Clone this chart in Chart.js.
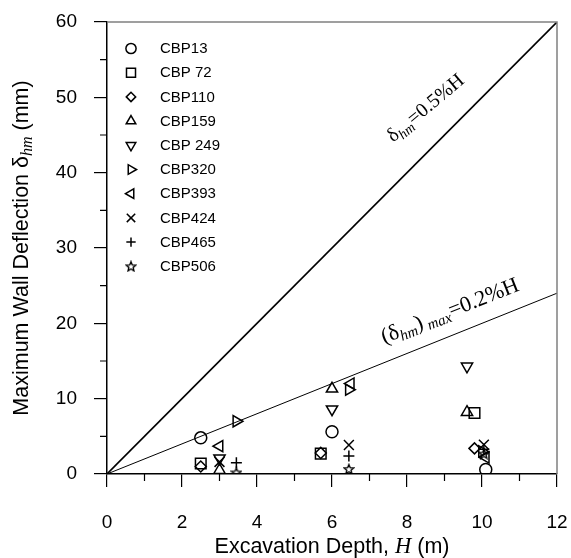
<!DOCTYPE html>
<html>
<head>
<meta charset="utf-8">
<script src="https://cdn.jsdelivr.net/npm/chart.js@4/dist/chart.umd.min.js"></script>
<style>
html,body{margin:0;padding:0;background:#fff;}
canvas{display:block;}
</style>
</head>
<body>
<canvas id="c" width="571" height="558"></canvas>
<script>
// ---- data ----
const seriesNames = ["CBP13","CBP 72","CBP110","CBP159","CBP 249","CBP320","CBP393","CBP424","CBP465","CBP506"];
const depthCBP13  = [2.5, 6.0, 10.1];   const deflCBP13  = [4.8, 5.6, 0.6];
const depthCBP72  = [2.5, 5.7, 9.8];    const deflCBP72  = [1.4, 2.7, 8.1];
const depthCBP110 = [2.5, 5.7, 9.8];    const deflCBP110 = [1.0, 2.8, 3.4];
const depthCBP159 = [3.0, 6.0, 9.6];    const deflCBP159 = [0.5, 11.3, 8.2];
const depthCBP249 = [3.0, 6.0, 9.6];    const deflCBP249 = [2.1, 8.6, 14.3];
const depthCBP320 = [3.45, 6.45, 10.0]; const deflCBP320 = [7.0, 11.2, 3.0];
const depthCBP393 = [3.0, 6.5, 10.1];   const deflCBP393 = [3.7, 12.0, 2.2];
const depthCBP424 = [3.0, 6.45, 10.05]; const deflCBP424 = [1.6, 3.85, 3.9];
const depthCBP465 = [3.45, 6.45, 10.05];const deflCBP465 = [1.5, 2.4, 3.3];
const depthCBP506 = [3.45, 6.45, 10.05];const deflCBP506 = [0.2, 0.66, 2.7];
const depths = [depthCBP13,depthCBP72,depthCBP110,depthCBP159,depthCBP249,depthCBP320,depthCBP393,depthCBP424,depthCBP465,depthCBP506];
const defls  = [deflCBP13,deflCBP72,deflCBP110,deflCBP159,deflCBP249,deflCBP320,deflCBP393,deflCBP424,deflCBP465,deflCBP506];
// reference lines (end points)
const line05H = [0, 12]; const line05D = [0, 60];
const line02H = [0, 12]; const line02D = [0, 24];
const xTicksMajor = [0,2,4,6,8,10,12];
const yTicksMajor = [0,10,20,30,40,50,60];

// ---- styles ----
function makeStar(size){
  const c = document.createElement('canvas');
  c.width = size; c.height = size;
  const g = c.getContext('2d');
  const cx = size/2, cy = size/2 + 0.5, R = size/2 - 1, r = R*0.45;
  g.beginPath();
  for(let i=0;i<10;i++){
    const a = -Math.PI/2 + i*Math.PI/5;
    const rr = i%2===0 ? R : r;
    const px = cx + rr*Math.cos(a), py = cy + rr*Math.sin(a);
    if(i===0) g.moveTo(px,py); else g.lineTo(px,py);
  }
  g.closePath();
  g.lineWidth = 1.4; g.strokeStyle = '#000'; g.stroke();
  return c;
}
const star = makeStar(12);
const styles = [
  {pointStyle:'circle', radius:6, rotation:0},
  {pointStyle:'rect', radius:7.5, rotation:0},
  {pointStyle:'rectRot', radius:5.5, rotation:0},
  {pointStyle:'triangle', radius:6.5, rotation:0},
  {pointStyle:'triangle', radius:6.5, rotation:180},
  {pointStyle:'triangle', radius:6.5, rotation:90},
  {pointStyle:'triangle', radius:6.5, rotation:270},
  {pointStyle:'crossRot', radius:7, rotation:0},
  {pointStyle:'cross', radius:5.5, rotation:0},
  {pointStyle:star, radius:6, rotation:0}
];

const datasets = seriesNames.map((n,i)=>({
  label:n, type:'scatter',
  data: depths[i].map((x,j)=>({x:x, y:defls[i][j]})),
  pointStyle: styles[i].pointStyle, pointRadius: styles[i].radius,
  pointRotation: styles[i].rotation, pointBorderWidth:1.5,
  pointBorderColor:'#000', pointBackgroundColor:'rgba(0,0,0,0)', showLine:false
}));
datasets.push({label:'0.5%H', type:'line', data: line05H.map((x,j)=>({x:x,y:line05D[j]})),
  borderColor:'#000', borderWidth:1.6, pointRadius:0, showLine:true, fill:false});
datasets.push({label:'0.2%H', type:'line', data: line02H.map((x,j)=>({x:x,y:line02D[j]})),
  borderColor:'#000', borderWidth:1, pointRadius:0, showLine:true, fill:false});

const SANS = '"Liberation Sans", Arial, sans-serif';
const SERIF = '"Liberation Serif", "Times New Roman", serif';

function drawRich(ctx, segs, cx, cy, angle){
  ctx.save();
  let w = 0;
  segs.forEach(s=>{ ctx.font = s.font; s.w = ctx.measureText(s.t).width; w += s.w; });
  ctx.translate(cx, cy); ctx.rotate(angle);
  ctx.fillStyle = '#000'; ctx.textBaseline = 'alphabetic'; ctx.textAlign = 'left';
  let x = -w/2;
  segs.forEach(s=>{ ctx.font = s.font; ctx.fillText(s.t, x, (s.base||0) + (s.dy||0)); x += s.w; });
  ctx.restore();
}

const extras = {
  id:'extras',
  afterDraw(chart){
    const ctx = chart.ctx, a = chart.chartArea;
    const xs = chart.scales.x, ys = chart.scales.y;
    ctx.save();
    // top/right frame
    ctx.strokeStyle = '#808080'; ctx.lineWidth = 1.5;
    ctx.beginPath();
    ctx.moveTo(a.left, a.top); ctx.lineTo(a.right, a.top); ctx.lineTo(a.right, a.bottom);
    ctx.stroke();
    // minor ticks
    ctx.strokeStyle = '#000'; ctx.lineWidth = 1.2;
    ctx.beginPath();
    for(let v=1; v<12; v+=2){ const px = xs.getPixelForValue(v); ctx.moveTo(px, a.bottom); ctx.lineTo(px, a.bottom+7); }
    for(let v=5; v<60; v+=10){ const py = ys.getPixelForValue(v); ctx.moveTo(a.left, py); ctx.lineTo(a.left-7, py); }
    ctx.stroke();
    // legend
    const H = Chart.helpers;
    seriesNames.forEach((n,i)=>{
      const y = 48.5 + i*24.2;
      const st = styles[i];
      ctx.strokeStyle = '#000'; ctx.fillStyle = 'rgba(0,0,0,0)'; ctx.lineWidth = 1.5;
      H.drawPoint(ctx, {pointStyle: st.pointStyle, radius: st.radius*0.85, rotation: st.rotation, borderWidth:1.5}, 131, y);
      ctx.fillStyle = '#000'; ctx.font = '15px ' + SANS; ctx.textBaseline = 'middle'; ctx.textAlign='left';
      ctx.fillText(n, 160, y+0.5);
    });
    // line labels
    const f = 20, fs = 14;
    const p1x = xs.getPixelForValue(8.49), p1y = ys.getPixelForValue(48.6);
    drawRich(ctx, [
      {t:'\u03B4', font:f+'px '+SERIF, base:6},
      {t:'hm', font:'italic '+fs+'px '+SERIF, base:6, dy:4},
      {t:'=0.5%H', font:f+'px '+SERIF, base:6}
    ], p1x, p1y, -40*Math.PI/180);
    const f2 = 22, fs2 = 15;
    const p2x = xs.getPixelForValue(9.15), p2y = ys.getPixelForValue(21.6);
    drawRich(ctx, [
      {t:'(\u03B4', font:f2+'px '+SERIF, base:6},
      {t:'hm', font:'italic '+fs2+'px '+SERIF, base:6, dy:4},
      {t:')', font:f2+'px '+SERIF, base:6},
      {t:' max', font:'italic '+fs2+'px '+SERIF, base:6, dy:4},
      {t:'=0.2%H', font:f2+'px '+SERIF, base:6}
    ], p2x, p2y, -21.5*Math.PI/180);
    // axis titles
    const tf = 21.5;
    drawRich(ctx, [
      {t:'Excavation Depth, ', font:tf+'px '+SANS, base:7},
      {t:'H', font:'italic '+(tf+1)+'px '+SERIF, base:7},
      {t:' (m)', font:tf+'px '+SANS, base:7}
    ], (a.left+a.right)/2, 546, 0);
    drawRich(ctx, [
      {t:'Maximum Wall Deflection \u03B4', font:tf+'px '+SANS, base:7},
      {t:'hm', font:'italic 16px '+SERIF, base:7, dy:4},
      {t:' (mm)', font:tf+'px '+SANS, base:7}
    ], 21, (a.top+a.bottom)/2, -Math.PI/2);
    ctx.restore();
  }
};

new Chart(document.getElementById('c'), {
  type:'scatter',
  data:{datasets},
  options:{
    responsive:false, animation:false, devicePixelRatio:1,
    layout:{padding:{top:22, right:14, left:0, bottom:0}},
    plugins:{legend:{display:false}, tooltip:{enabled:false}},
    scales:{
      x:{type:'linear', min:0, max:12,
        afterBuildTicks(s){ s.ticks = xTicksMajor.map(v=>({value:v})); },
        afterFit(s){ s.height = 84; s.paddingLeft = 0; s.paddingRight = 0; s.paddingTop = 0; s.paddingBottom = 0; },
        grid:{drawOnChartArea:false, drawTicks:true, tickLength:13, color:'#000', lineWidth:1.2},
        border:{display:true, color:'#000', width:1.5},
        ticks:{padding:24, color:'#000', font:{family:SANS, size:19}, maxRotation:0}
      },
      y:{type:'linear', min:0, max:60,
        afterBuildTicks(s){ s.ticks = yTicksMajor.map(v=>({value:v})); },
        afterFit(s){ s.width = 107; s.paddingLeft = 0; s.paddingRight = 0; s.paddingTop = 0; s.paddingBottom = 0; },
        grid:{drawOnChartArea:false, drawTicks:true, tickLength:13, color:'#000', lineWidth:1.2},
        border:{display:true, color:'#000', width:1.5},
        ticks:{padding:17, color:'#000', font:{family:SANS, size:19}}
      }
    }
  },
  plugins:[extras]
});
</script>
</body>
</html>
